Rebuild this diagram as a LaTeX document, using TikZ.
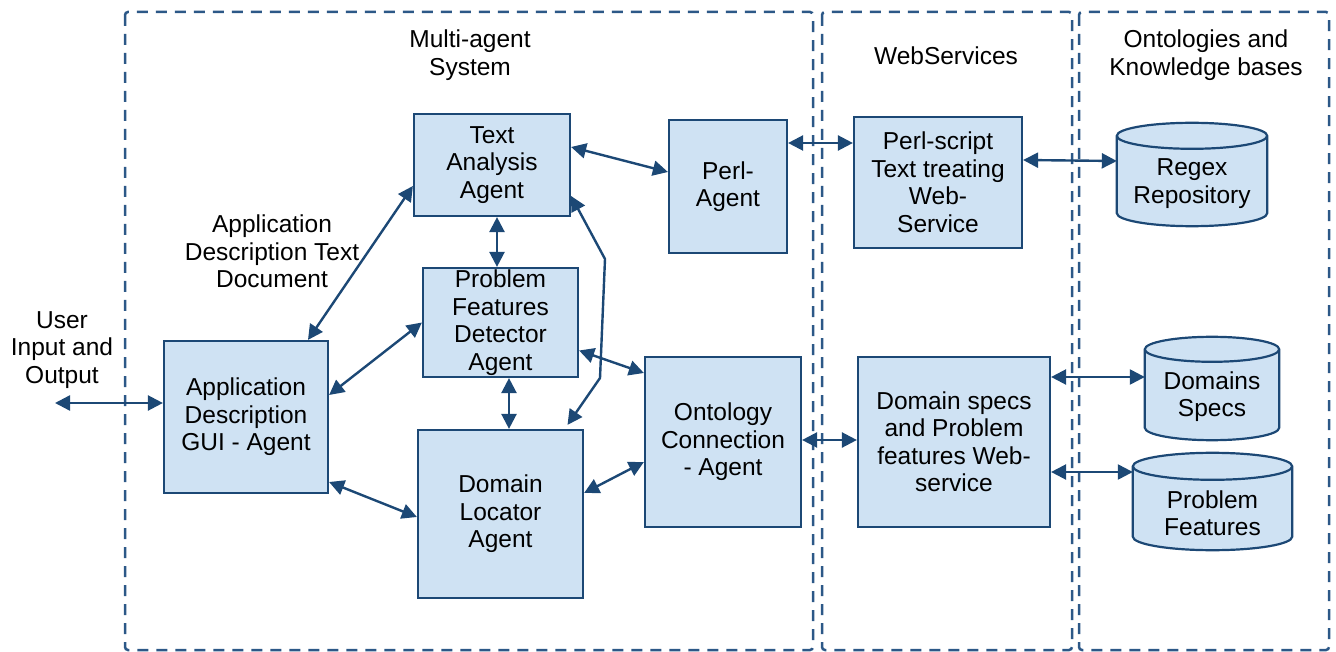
\documentclass[tikz,border=0pt]{standalone}
\usepackage{fontspec}
\setmainfont{Liberation Sans}
\usetikzlibrary{arrows.meta,calc}
\definecolor{boxfill}{RGB}{207,226,243}
\definecolor{boxline}{RGB}{28,72,117}
\definecolor{frameline}{RGB}{44,88,135}

\begin{document}
\begin{tikzpicture}[x=1pt,y=-1pt,
  every node/.style={font=\fontsize{24.5}{27.5}\selectfont, align=center, inner sep=0pt,
    execute at begin node=\rule{0pt}{23.7pt},
    execute at end node=\rule[-1pt]{0pt}{1pt}},
  agent/.style={rectangle, draw=boxline, fill=boxfill, line width=2.2pt},
  store/.style={rectangle},
  storeshape/.style={draw=boxline, fill=boxfill, line width=2.2pt},
  link/.style={draw=boxline, line width=2.4pt,
    {Triangle[length=15pt,width=15pt]}-{Triangle[length=15pt,width=15pt]}},
  area/.style={draw=frameline, line width=2.5pt, dash pattern=on 11pt off 8pt, rounded corners=3pt}]

\useasboundingbox (0,0) rectangle (1336,652);

% system boundaries
\draw[area] (125,12) rectangle (813,650);
\draw[area] (822,12) rectangle (1072,650);
\draw[area] (1079,12) rectangle (1329,650);

% boundary titles and free captions
\node (tmas) at (470,55) {Multi-agent\\System};
\node (tws) at (946,53) {WebServices};
\node (tonto) at (1206,55) {Ontologies and\\Knowledge bases};
\node (tdoc) at (272,252) {Application\\Description Text\\Document};
\node (tuser) at (62,350) {User\\Input and\\Output};

% agents
\node[agent, minimum width=156pt, minimum height=102pt] (ta) at (492,165) {Text\\Analysis\\Agent};
\node[agent, minimum width=118pt, minimum height=133pt] (perl) at (728,186.5) {Perl-\\Agent};
\node[agent, minimum width=155pt, minimum height=109pt] (pfd) at (500.5,322.5) {Problem\\Features\\Detector\\Agent};
\node[agent, minimum width=164pt, minimum height=152pt] (gui) at (246,417) {Application\\Description\\GUI - Agent};
\node[agent, minimum width=165pt, minimum height=168pt] (dl) at (500.5,514) {Domain\\Locator\\Agent};
\node[agent, minimum width=156pt, minimum height=170pt] (oc) at (723,442) {Ontology\\Connection\\- Agent};

% web services
\node[agent, minimum width=168pt, minimum height=131pt] (ps) at (938,182.5) {Perl-script\\Text treating\\Web-\\Service};
\node[agent, minimum width=192pt, minimum height=170pt] (dsw) at (954,442) {Domain specs\\and Problem\\features Web-\\service};

% knowledge stores (cylinders)
\node[store, minimum width=150pt, minimum height=103pt] (rx) at (1192,174.5) {};
\node[store, minimum width=134pt, minimum height=103pt] (ds) at (1212,388.5) {};
\node[store, minimum width=159pt, minimum height=97pt] (pf) at (1212.5,501.5) {};
\foreach \c/\r in {rx/13,ds/12.5,pf/13.5}{
  \path[storeshape]
    let \p1=(\c.north west), \p2=(\c.south east), \n1={(\x2-\x1)/2} in
    (\x1,\y1-\r pt) -- (\x1,\y2+\r pt)
      arc[start angle=180, end angle=360, x radius=\n1, y radius=\r pt]
      -- (\x2,\y1-\r pt)
      arc[start angle=0, end angle=180, x radius=\n1, y radius=\r pt] -- cycle
    (\x1,\y1-\r pt)
      arc[start angle=180, end angle=360, x radius=\n1, y radius=\r pt];
}
\node (rxt) at ([yshift=-9pt]rx.center) {Regex\\Repository};
\node (dst) at ([yshift=-8pt]ds.center) {Domains\\Specs};
\node (pft) at ([yshift=-12pt]pf.center) {Problem\\Features};

% connectors
\coordinate (uio) at (55,403);
\coordinate (b1) at (605,259);
\coordinate (b2) at (600,378);

\draw[link] (uio) -- ([yshift=14pt]gui.west);
\draw[link] ([xshift=62pt]gui.north) -- ([yshift=-21pt]ta.west);
\draw[link] ([yshift=22pt]gui.east) -- (pfd.west);
\draw[link] ([yshift=-65pt]gui.east) -- ([yshift=-3pt]dl.west);
\draw[link] ([xshift=5pt]ta.south) -- ([xshift=-3.5pt]pfd.north);
\draw[link] ([xshift=8.5pt]pfd.south) -- ([xshift=8.5pt]dl.north);
\draw[link] ([yshift=18pt]ta.east) -- ([yshift=14.5pt]perl.west);
\draw[link] ([yshift=-31pt]ta.east) -- (b1) -- (b2) -- ([xshift=67pt,yshift=4pt]dl.north);
\draw[link] ([yshift=-28pt]pfd.east) -- ([yshift=69pt]oc.west);
\draw[link] ([yshift=21pt]dl.east) -- ([yshift=-20pt]oc.west);
\draw[link] ([yshift=43.5pt]perl.east) -- ([yshift=39.5pt]ps.west);
\draw[link] ([yshift=22.5pt]ps.east) -- ([yshift=13.5pt]rx.west);
\draw[link] ([yshift=2pt]oc.east) -- ([yshift=2pt]dsw.west);
\draw[link] ([yshift=65pt]dsw.east) -- ([yshift=11.5pt]ds.west);
\draw[link] ([yshift=-30pt]dsw.east) -- ([yshift=29.5pt]pf.west);
\end{tikzpicture}
\end{document}
